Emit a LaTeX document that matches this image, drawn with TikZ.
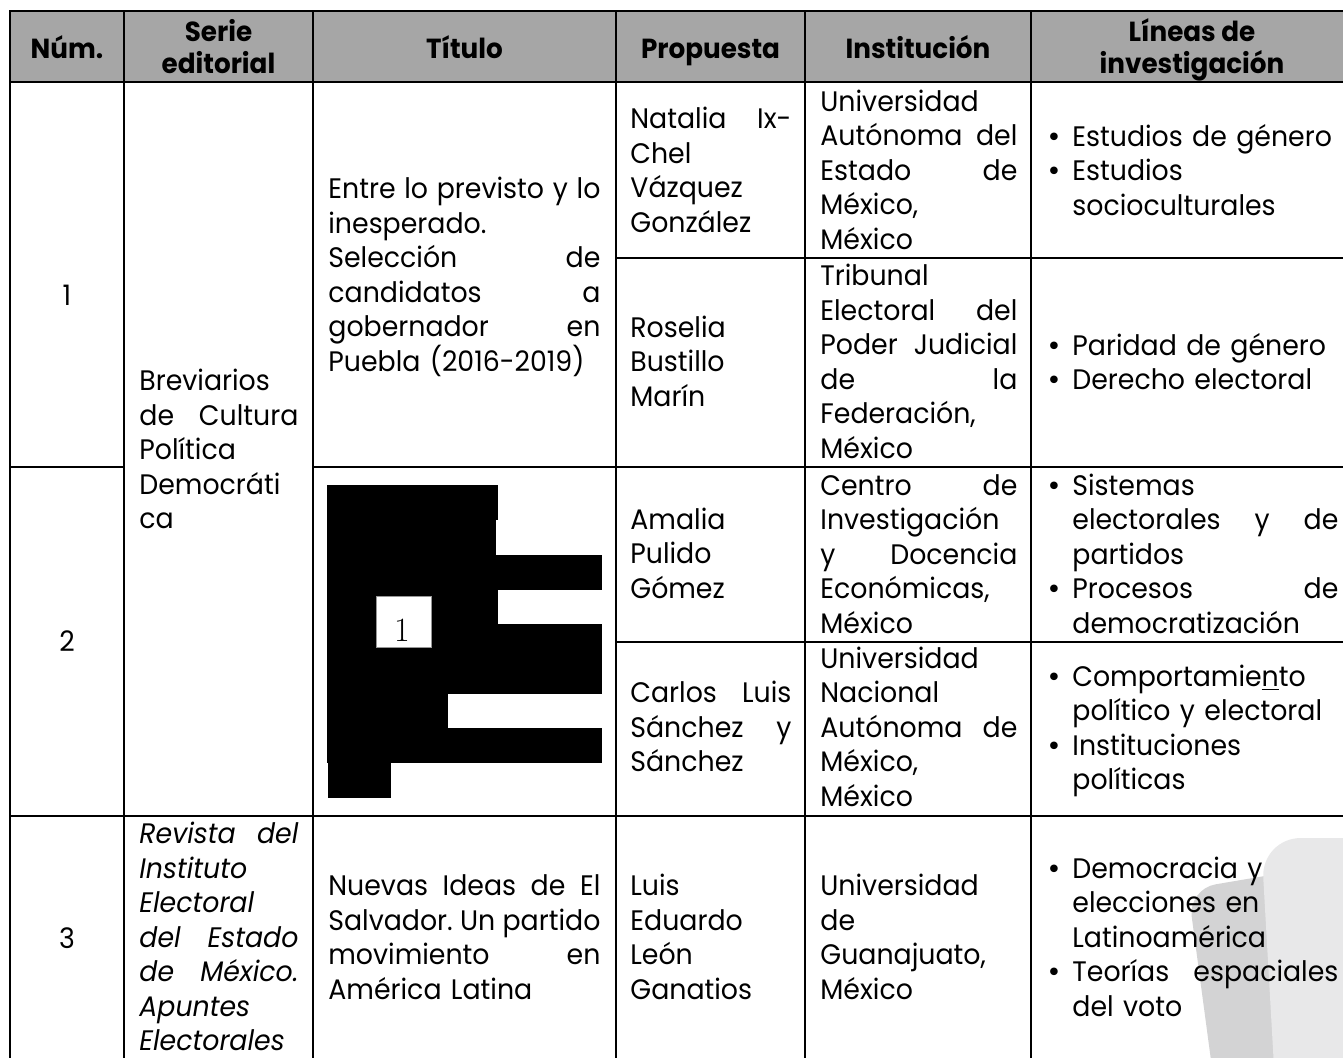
\documentclass[tikz,border=0pt]{standalone}
\usepackage{fontspec}
\newfontfamily\poppins[FakeStretch=0.95]{Poppins}
\newfontfamily\dejavu{DejaVu Sans}
\definecolor{hdrgray}{RGB}{166,166,166}
\definecolor{wmlight}{RGB}{232,232,233}
\definecolor{wmdark}{RGB}{211,211,212}
\definecolor{boxedge}{RGB}{150,150,150}
\newlength\cw
\newcommand\cellfont{\poppins\fontsize{14.1}{17.25}\selectfont\frenchspacing}
\newcommand\hdrfont{\poppins\bfseries\fontsize{13.8}{16}\selectfont}
\newcommand\cst{\rule[-4.4pt]{0pt}{17.25pt}}
\newcommand\hst{\rule[-3.8pt]{0pt}{16pt}}
\newcommand\bul{\makebox[12.5pt][l]{\hspace{-0.5pt}{\dejavu\fontsize{13}{12}\selectfont •}}}
\newcommand\ind{\leavevmode\hspace*{12.5pt}}
\newcommand\jl[1]{\leavevmode\hbox to\cw{\spaceskip=\fontdimen2\font plus 1fil\relax #1}}
\newcommand\jb[1]{\hbox to\dimexpr\cw-12.5pt\relax{\spaceskip=\fontdimen2\font plus 1fil\relax #1}}
\tikzset{
  tcell/.style={anchor=west, inner sep=0pt, align=left, font=\cellfont, execute at end node=\cst},
  colserie/.style={tcell, text width=79.5pt, execute at begin node={\setlength\cw{79.5pt}\cst}},
  coltitulo/.style={tcell, text width=136pt, execute at begin node={\setlength\cw{136pt}\cst}},
  colprop/.style={tcell, text width=80.5pt, execute at begin node={\setlength\cw{80.5pt}\cst}},
  colinst/.style={tcell, text width=98.5pt, execute at begin node={\setlength\cw{98.5pt}\cst}},
  collineas/.style={tcell, text width=145.5pt, execute at begin node={\setlength\cw{145.5pt}\cst}},
  numcell/.style={anchor=center, inner sep=0pt, font=\cellfont, execute at begin node=\cst, execute at end node=\cst},
  hdrcell/.style={anchor=center, align=center, inner sep=0pt, font=\hdrfont, execute at begin node=\hst, execute at end node=\hst},
  gridline/.style={line width=1pt, black, line cap=rect},
  redact/.style={fill=black},
}
\begin{document}
\begin{tikzpicture}[x=0.5pt,y=-0.5pt]
\useasboundingbox (0,0) rectangle (1343,1057);
\clip (0,0) rectangle (1343,1057);
\fill[white] (0,0) rectangle (1343,1057);
% header band
\fill[hdrgray] (10,11) rectangle (1360,82);
% watermark
\fill[wmdark, rounded corners=14] (1188,889) -- (1300,870) -- (1300,1120) -- (1219,1120) -- cycle;
\fill[wmlight, rounded corners=20] (1261,838) -- (1400,838) -- (1400,1120) -- (1277,1120) -- cycle;
% redaction
\fill[redact] (327,485) rectangle (498,520);
\fill[redact] (327,519) rectangle (496,556);
\fill[redact] (327,555) rectangle (602,590);
\fill[redact] (327,589) rectangle (498,625);
\fill[redact] (327,624) rectangle (602,694);
\fill[redact] (327,693) rectangle (448,729);
\fill[redact] (327,728) rectangle (602,763);
\fill[redact] (328,762) rectangle (391,798);
\draw[boxedge, line width=0.3pt, fill=white] (376,596) rectangle (431,647);
\node[inner sep=0pt, font=\rmfamily\fontsize{17}{19}\selectfont] (redone) at (402,630) {1};
% grid
\draw[gridline] (10,11) -- (1360,11);
\draw[gridline] (10,82) -- (1360,82);
\draw[gridline] (616,258) -- (1360,258);
\draw[gridline] (10,467) -- (124,467);
\draw[gridline] (313,467) -- (1360,467);
\draw[gridline] (616,642) -- (1360,642);
\draw[gridline] (10,816) -- (1360,816);
\foreach \xx in {10,124,313,616,805,1031} {\draw[gridline] (\xx,11) -- (\xx,1120);}
% header
\node[hdrcell] (hnum) at (67,50) {Núm.};
\node[hdrcell] (hserie) at (218.5,50) {Serie\\editorial};
\node[hdrcell] (htitulo) at (464.5,50) {Título};
\node[hdrcell] (hprop) at (710.5,50) {Propuesta};
\node[hdrcell] (hinst) at (918,50) {Institución};
\node[hdrcell] (hlineas) at (1192,50) {Líneas de\\investigación};
% numbers
\node[numcell] (n1) at (67,297) {1};
\node[numcell] (n2) at (67,643) {2};
\node[numcell] (n3) at (67,940) {3};
% serie
\node[colserie] (s12) at (139,451.5) {Breviarios\\\jl{de Cultura}\\Política\\Democráti\\ca};
\node[colserie, font=\cellfont\itshape] (s3) at (139,939) {\jl{Revista del}\\Instituto\\Electoral\\\jl{del Estado}\\\jl{de México.}\\Apuntes\\Electorales};
% titulo
\node[coltitulo] (t1) at (328,276.5) {\jl{Entre lo previsto y lo}\\inesperado.\\\jl{Selección de}\\\jl{candidatos a}\\\jl{gobernador en}\\Puebla (2016-2019)};
\node[coltitulo] (t3) at (328,939) {\jl{Nuevas Ideas de El}\\\jl{Salvador. Un partido}\\\jl{movimiento en}\\América Latina};
% propuesta
\node[colprop] (p1a) at (630,172) {\jl{Natalia Ix-}\\Chel\\Vázquez\\González};
\node[colprop] (p1b) at (630,363.5) {Roselia\\Bustillo\\Marín};
\node[colprop] (p2a) at (630,555.5) {Amalia\\Pulido\\Gómez};
\node[colprop] (p2b) at (630,729) {\jl{Carlos Luis}\\\jl{Sánchez y}\\Sánchez};
\node[colprop] (p3) at (630,939) {Luis\\Eduardo\\León\\Ganatios};
% institucion
\node[colinst] (i1a) at (820,172) {Universidad\\\jl{Autónoma del}\\\jl{Estado de}\\México,\\México};
\node[colinst] (i1b) at (820,363.5) {Tribunal\\\jl{Electoral del}\\\jl{Poder Judicial}\\\jl{de la}\\Federación,\\México};
\node[colinst] (i2a) at (820,556) {\jl{Centro de}\\Investigación\\\jl{y Docencia}\\Económicas,\\México};
\node[colinst] (i2b) at (820,729) {Universidad\\Nacional\\\jl{Autónoma de}\\México,\\México};
\node[colinst] (i3) at (820,939) {Universidad\\de\\Guanajuato,\\México};
% lineas
\node[collineas] (l1a) at (1047,172.5) {\bul Estudios de género\\\bul Estudios\\\ind socioculturales};
\node[collineas] (l1b) at (1047,364) {\bul Paridad de género\\\bul Derecho electoral};
\node[collineas] (l2a) at (1047,556) {\bul Sistemas\\\ind\jb{electorales y de}\\\ind partidos\\\bul\jb{Procesos de}\\\ind democratización};
\node[collineas] (l2b) at (1047,729.5) {\bul Comportamie\underline{n}to\\\ind político y electoral\\\bul Instituciones\\\ind políticas};
\node[collineas] (l3) at (1047,939) {\bul Democracia y\\\ind elecciones en\\\ind Latinoamérica\\\bul\jb{Teorías espaciales}\\\ind del voto};
\end{tikzpicture}
\end{document}
